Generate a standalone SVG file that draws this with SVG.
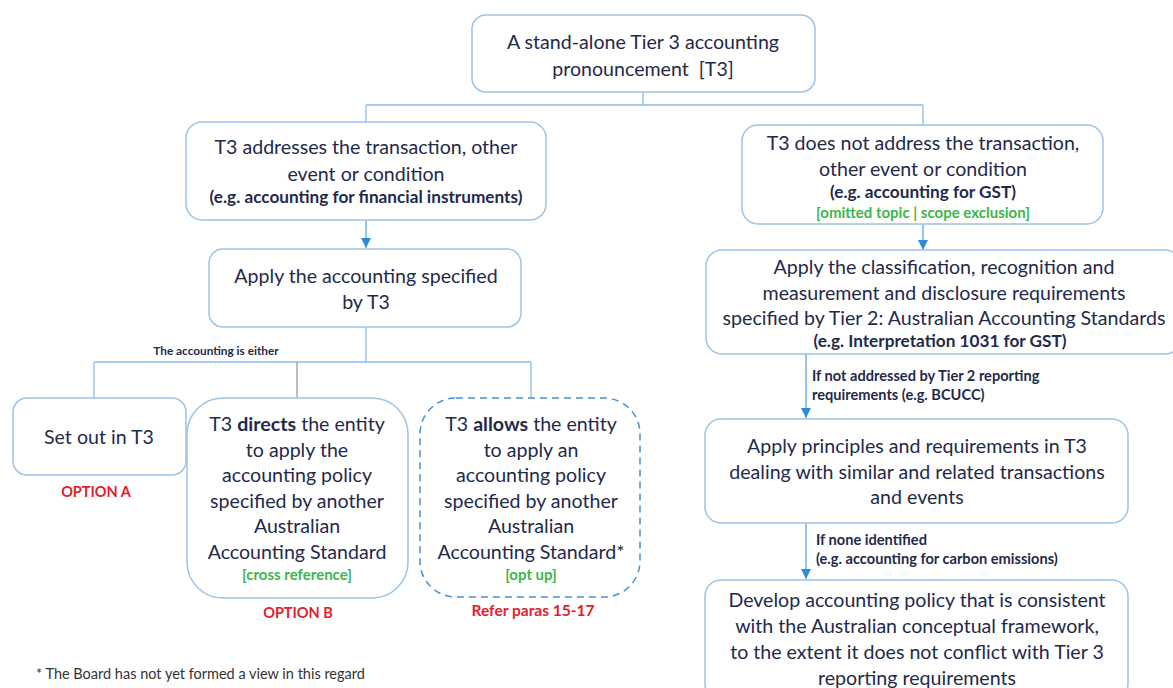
<svg xmlns="http://www.w3.org/2000/svg" width="1173" height="688" viewBox="0 0 1173 688">
<defs>
<marker id="ah" viewBox="0 0 10 10" refX="10" refY="5" markerWidth="10" markerHeight="10" markerUnits="userSpaceOnUse" orient="auto">
<path d="M0,0 L10,5 L0,10 z" fill="#2E8BD8"/>
</marker>
<style>
.box{fill:#fff;stroke:#9CC3E8;stroke-width:1.5}
.dash{fill:#fff;stroke:#4A90D0;stroke-width:1.5;stroke-dasharray:7 5}
.ln{fill:none;stroke:#8FBCE6;stroke-width:1.3}
.ar{fill:none;stroke:#5AA5E2;stroke-width:1.3;marker-end:url(#ah)}
text{font-family:Lato,"Open Sans","Liberation Sans",sans-serif;fill:#1F2A4A;text-anchor:middle}
.t{font-size:19.6px}
.b{font-size:17.2px;font-weight:bold}
.s{font-size:14.6px;font-weight:bold;text-anchor:start}
.g{font-size:15px;font-weight:bold;fill:#3DB54A}
.r{font-size:14.5px;font-weight:bold;fill:#E0202A}
</style>
</defs>
<rect width="1173" height="688" fill="#fff"/>
<g id="connectors">
<path class="ln" d="M643,92 V105 M366,105 H923 M366,105 V122 M923,105 V125"/>
<path class="ar" d="M366,220 V248"/>
<path class="ar" d="M923,224 V250"/>
<path class="ln" d="M366,327 V362 M94,362 H531 M94,362 V398 M531,362 V398"/>
<path d="M297,362 V398" fill="none" stroke="#999" stroke-width="1.3"/>
<path class="ar" d="M806,354 V418"/>
<path class="ar" d="M806,523 V579"/>
</g>
<g id="n-top">
<rect class="box" x="472" y="15" width="343" height="77" rx="14"/>
<text class="t" x="643" y="49">A stand-alone Tier 3 accounting</text>
<text class="t" x="643" y="76">pronouncement&#160; [T3]</text>
</g>
<g id="n-addresses">
<rect class="box" x="186" y="122" width="360" height="98" rx="16"/>
<text class="t" x="366" y="154">T3 addresses the transaction, other</text>
<text class="t" x="366" y="181">event or condition</text>
<text class="b" x="366" y="203">(e.g. accounting for financial instruments)</text>
</g>
<g id="n-apply">
<rect class="box" x="209" y="249" width="312" height="78" rx="14"/>
<text class="t" x="366" y="283">Apply the accounting specified</text>
<text class="t" x="366" y="309">by T3</text>
</g>
<text x="216" y="355" style="font-size:11.8px;font-weight:bold">The accounting is either</text>
<g id="n-optA">
<rect class="box" x="13" y="398" width="173" height="77" rx="14"/>
<text class="t" x="99" y="444">Set out in T3</text>
<text class="r" x="96" y="497">OPTION A</text>
</g>
<g id="n-optB">
<rect class="box" x="187" y="398" width="221" height="200" rx="36"/>
<text class="t" x="297" y="431">T3 <tspan font-weight="bold">directs</tspan> the entity</text>
<text class="t" x="297" y="457">to apply the</text>
<text class="t" x="297" y="482">accounting policy</text>
<text class="t" x="297" y="508">specified by another</text>
<text class="t" x="297" y="533">Australian</text>
<text class="t" x="297" y="559">Accounting Standard</text>
<text class="g" x="297" y="580">[cross reference]</text>
<text class="r" x="298" y="618">OPTION B</text>
</g>
<g id="n-optC">
<rect class="dash" x="420" y="398" width="220" height="199" rx="36"/>
<text class="t" x="531" y="431">T3 <tspan font-weight="bold">allows</tspan> the entity</text>
<text class="t" x="531" y="457">to apply an</text>
<text class="t" x="531" y="482">accounting policy</text>
<text class="t" x="531" y="508">specified by another</text>
<text class="t" x="531" y="533">Australian</text>
<text class="t" x="531" y="559">Accounting Standard*</text>
<text class="g" x="531" y="580">[opt up]</text>
<text class="r" x="533" y="616" style="font-size:15.5px">Refer paras 15-17</text>
</g>
<g id="n-notaddress">
<rect class="box" x="742" y="125" width="361" height="99" rx="16"/>
<text class="t" x="923" y="150">T3 does not address the transaction,</text>
<text class="t" x="923" y="176">other event or condition</text>
<text class="b" x="923" y="198">(e.g. accounting for GST)</text>
<text class="g" x="923" y="218">[omitted topic | scope exclusion]</text>
</g>
<g id="n-tier2">
<rect class="box" x="706" y="250" width="475" height="104" rx="16"/>
<text class="t" x="944" y="274">Apply the classification, recognition and</text>
<text class="t" x="944" y="300">measurement and disclosure requirements</text>
<text class="t" x="944" y="325">specified by Tier 2: Australian Accounting Standards</text>
<text class="b" x="940" y="347">(e.g. Interpretation 1031 for GST)</text>
</g>
<text class="s" x="812" y="381">If not addressed by Tier 2 reporting</text>
<text class="s" x="812" y="400">requirements (e.g. BCUCC)</text>
<g id="n-principles">
<rect class="box" x="705" y="419" width="423" height="104" rx="16"/>
<text class="t" x="917" y="453">Apply principles and requirements in T3</text>
<text class="t" x="917" y="479">dealing with similar and related transactions</text>
<text class="t" x="917" y="504">and events</text>
</g>
<text class="s" x="816" y="545">If none identified</text>
<text class="s" x="816" y="564">(e.g. accounting for carbon emissions)</text>
<g id="n-develop">
<rect class="box" x="705" y="580" width="423" height="120" rx="16"/>
<text class="t" x="917" y="607">Develop accounting policy that is consistent</text>
<text class="t" x="917" y="633">with the Australian conceptual framework,</text>
<text class="t" x="917" y="659">to the extent it does not conflict with Tier 3</text>
<text class="t" x="917" y="685">reporting requirements</text>
</g>
<text x="36" y="679" style="font-size:14.5px;text-anchor:start;fill:#333">* The Board has not yet formed a view in this regard</text>
</svg>
